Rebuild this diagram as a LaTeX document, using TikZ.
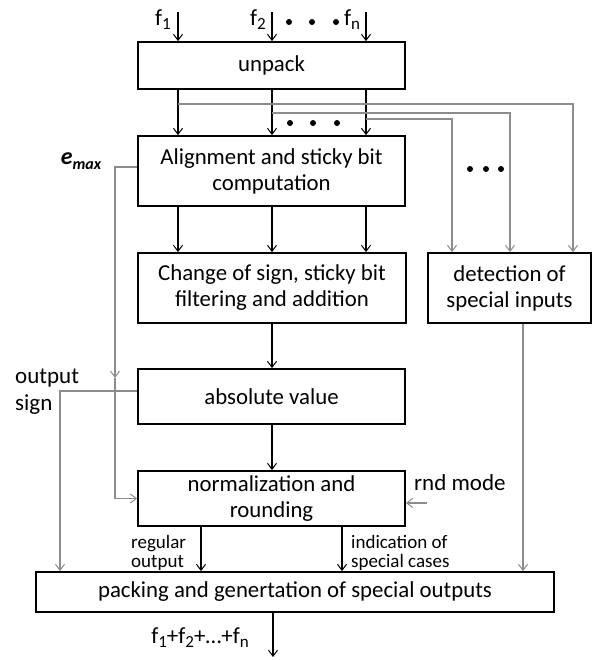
\documentclass[tikz,border=0pt]{standalone}
\usepackage{fontspec}
\setmainfont{Carlito}
\usetikzlibrary{arrows.meta}
\definecolor{txt}{HTML}{000000}
\definecolor{gline}{HTML}{8C8C8C}
\tikzset{
  blk/.style={draw=black, line width=1.8pt, rectangle, inner sep=0pt, align=center, text=txt,
    font=\fontsize{22.8}{26}\selectfont},
  arr/.style={draw=black, line width=1.3pt, -{Straight Barb[length=6pt,width=9pt,line width=1pt]}},
  garr/.style={draw=gline, line width=1.3pt, -{Straight Barb[length=6pt,width=9pt,line width=1pt]}},
  gline/.style={draw=gline, line width=1.3pt},
  lbl/.style={text=txt, inner sep=0pt, font=\fontsize{23}{27}\selectfont},
  slbl/.style={text=txt, inner sep=0pt, font=\fontsize{19}{19.5}\selectfont, align=left},
  dotc/.style={fill=black, circle, inner sep=0pt, minimum size=6pt},
}
\newcommand{\sbs}[1]{\raisebox{-0.35ex}{\fontsize{17}{17}\selectfont #1}}
\begin{document}
\begin{tikzpicture}[x=1pt,y=-1pt]
\useasboundingbox (0,0) rectangle (595,660);
% boxes
\node[blk, minimum width=267pt, minimum height=47pt] (unpack) at (271.5,65.5) {unpack};
\node[blk, minimum width=267pt, minimum height=70pt] (align) at (271.5,171) {Alignment and sticky bit\\computation};
\node[blk, minimum width=268pt, minimum height=70pt] (change) at (272,288) {Change of sign, sticky bit\\filtering and addition};
\node[blk, minimum width=163pt, minimum height=70pt] (detect) at (509.5,288) {detection of\\special inputs};
\node[blk, minimum width=267pt, minimum height=55pt] (abs) at (271.5,396.5) {absolute value};
\node[blk, minimum width=267pt, minimum height=55pt] (norm) at (271.5,498.5) {normalization and\\rounding};
\node[blk, minimum width=518pt, minimum height=40pt] (pack) at (295,592) {packing and genertation of special outputs};

% column coordinates
\coordinate (xa) at (178,0);
\coordinate (xb) at (272,0);
\coordinate (xc) at (366,0);
\coordinate (in1) at (178,12);
\coordinate (in2) at (272,12);
\coordinate (in3) at (366,12);

% input labels
\node[lbl] (f1) at (163,20) {f\sbs{1}};
\node[lbl] (f2) at (258,20) {f\sbs{2}};
\node[lbl] (fn) at (352,20) {f\sbs{n}};
\node[dotc] (d1) at (289,22) {};
\node[dotc] (d2) at (312,22) {};
\node[dotc] (d3) at (336,22) {};

\draw[arr] (in1) -- (unpack.north -| in1);
\draw[arr] (in2) -- (unpack.north -| in2);
\draw[arr] (in3) -- (unpack.north -| in3);

% unpack -> align
\draw[arr] (unpack.south -| xa) -- (align.north -| xa);
\draw[arr] (unpack.south -| xb) -- (align.north -| xb);
\draw[arr] (unpack.south -| xc) -- (align.north -| xc);

% gray branches to detection
\coordinate (g1) at (178,104);
\coordinate (g2) at (272,113);
\coordinate (g3) at (366,119);
\coordinate (t1) at (573,0);
\coordinate (t2) at (510,0);
\coordinate (t3) at (452,0);
\draw[garr] (g1) -- (g1 -| t1) -- (detect.north -| t1);
\draw[garr] (g2) -- (g2 -| t2) -- (detect.north -| t2);
\draw[garr] (g3) -- (g3 -| t3) -- (detect.north -| t3);

\node[dotc] (m1) at (290,123) {};
\node[dotc] (m2) at (313,123) {};
\node[dotc] (m3) at (337,123) {};
\node[dotc] (r1) at (470,169) {};
\node[dotc] (r2) at (486,169) {};
\node[dotc] (r3) at (501,169) {};

% align -> change
\draw[arr] (align.south -| xa) -- (change.north -| xa);
\draw[arr] (align.south -| xb) -- (change.north -| xb);
\draw[arr] (align.south -| xc) -- (change.north -| xc);

% change -> abs -> norm
\draw[arr] (change.south -| xb) -- (abs.north -| xb);
\draw[arr] (abs.south -| xb) -- (norm.north -| xb);

% emax
\node[lbl, font=\fontsize{24}{26}\selectfont\bfseries\itshape] (emax) at (81,161) {e\raisebox{-0.4ex}{\fontsize{16}{16}\selectfont max}};
\coordinate (ey) at (0,167);
\coordinate (ex) at (115,0);
\coordinate (emid) at (115,378);
\draw[garr] (align.west |- ey) -- (ex |- ey) -- (emid);
\draw[garr] (emid) -- (ex |- norm.west) -- (norm.west);

% output sign
\node[lbl, align=left, anchor=west] (osign) at (15,392) {output\\sign};
\coordinate (sy) at (0,391);
\coordinate (sx) at (60,0);
\draw[garr] (abs.west |- sy) -- (sx |- sy) -- (pack.north -| sx);

% rnd mode
\node[lbl, anchor=west] (rnd) at (414,483) {rnd mode};
\coordinate (ry) at (0,503);
\draw[garr] (detect.west |- ry) -- (norm.east |- ry);

% norm -> pack
\coordinate (xr) at (201,0);
\coordinate (xi) at (342,0);
\draw[arr] (norm.south -| xr) -- (pack.north -| xr);
\draw[arr] (norm.south -| xi) -- (pack.north -| xi);
\node[slbl, anchor=west] (reg) at (131,553) {regular\\output};
\node[slbl, anchor=west] (ind) at (351,553) {indication of\\special cases};

% detect -> pack
\coordinate (xd) at (523,0);
\draw[garr] (detect.south -| xd) -- (pack.north -| xd);

% output
\coordinate (out) at (273,657);
\draw[arr] (pack.south -| out) -- (out);
\node[lbl, anchor=east] (sum) at (249,638) {f\sbs{1}+f\sbs{2}+…+f\sbs{n}};
\end{tikzpicture}
\end{document}
